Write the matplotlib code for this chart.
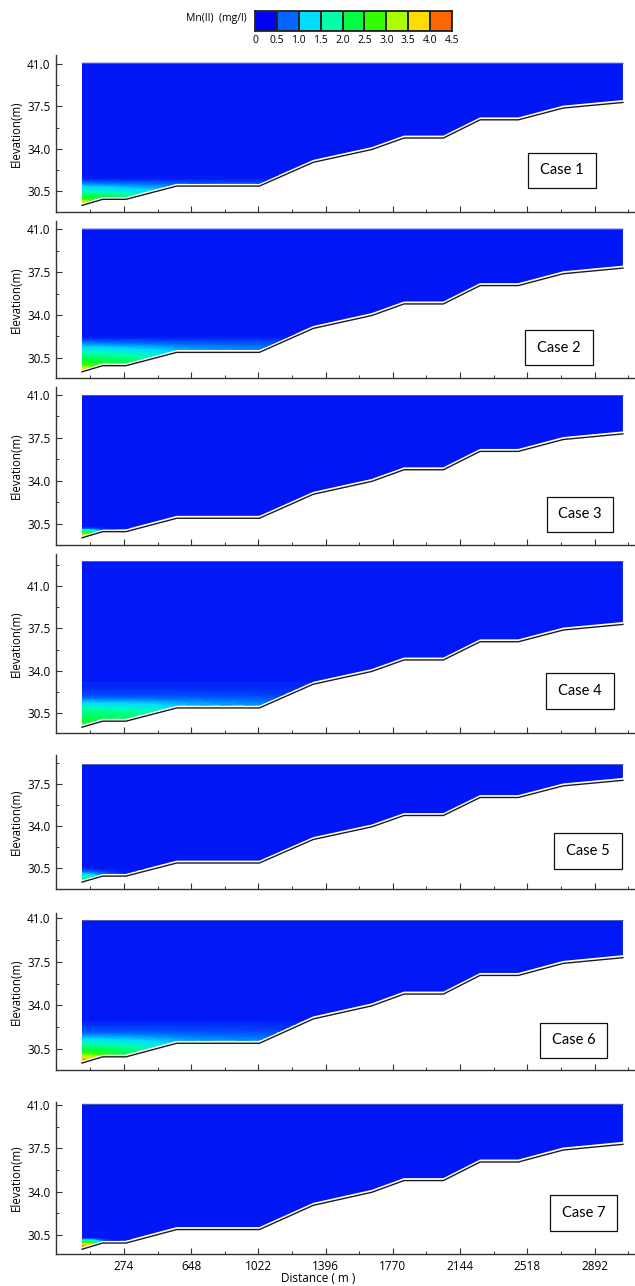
import numpy as np
import matplotlib
matplotlib.use("Agg")
import matplotlib.pyplot as plt
from matplotlib.colors import LinearSegmentedColormap, ListedColormap, BoundaryNorm, Normalize
from matplotlib.patches import Polygon, Rectangle
from matplotlib.ticker import FixedLocator

# ---------------- data ----------------
PROFILE_X = [40, 155, 285, 567, 1027, 1327, 1652, 1832, 2051, 2255, 2468, 2718, 3050]
PROFILE_Z = [29.35, 29.85, 29.85, 30.94, 30.94, 32.9, 33.95, 34.9, 34.9, 36.4, 36.4, 37.37, 37.83]

CASES = ["Case 1", "Case 2", "Case 3", "Case 4", "Case 5", "Case 6", "Case 7"]
SURFACE = [41.1, 41.05, 41.0, 43.05, 39.17, 40.85, 41.1]

GRID_X = [0, 100, 200, 320, 450, 600, 1000, 1300, 3200]

# concentration (mg/l): one row per GRID_X station, one value per elevation level
Z1 = [28.5, 29.5, 29.8, 30.1, 30.5, 30.9, 31.2, 31.5, 31.8, 44.0]
C1 = [[4.6, 4.2, 2.8, 2.3, 1.7, 1.2, 0.8, 0.35, 0.05, 0.0],
      [4.2, 3.8, 2.6, 2.2, 1.6, 1.15, 0.75, 0.3, 0.05, 0.0],
      [3.0, 3.0, 2.4, 2.1, 1.5, 1.1, 0.7, 0.3, 0.05, 0.0],
      [2.2, 2.2, 2.1, 1.9, 1.4, 1.0, 0.7, 0.3, 0.05, 0.0],
      [1.6, 1.6, 1.6, 1.5, 1.3, 0.95, 0.65, 0.3, 0.05, 0.0],
      [1.1, 1.1, 1.1, 1.1, 1.05, 0.9, 0.6, 0.25, 0.05, 0.0],
      [0.8, 0.8, 0.8, 0.8, 0.8, 0.75, 0.55, 0.25, 0.05, 0.0],
      [0.6, 0.6, 0.6, 0.6, 0.6, 0.6, 0.5, 0.2, 0.05, 0.0],
      [0.6, 0.6, 0.6, 0.6, 0.6, 0.6, 0.5, 0.2, 0.05, 0.0]]

Z2 = [28.5, 29.5, 29.8, 30.2, 30.6, 31.0, 31.4, 31.8, 32.1, 32.4, 44.0]
C2 = [[4.6, 4.3, 3.0, 2.4, 2.1, 1.6, 1.2, 0.7, 0.3, 0.05, 0.0],
      [4.0, 3.8, 2.8, 2.3, 2.0, 1.55, 1.15, 0.7, 0.3, 0.05, 0.0],
      [3.0, 3.0, 2.6, 2.2, 1.9, 1.5, 1.1, 0.65, 0.3, 0.05, 0.0],
      [2.3, 2.3, 2.3, 2.1, 1.8, 1.4, 1.05, 0.65, 0.3, 0.05, 0.0],
      [1.7, 1.7, 1.7, 1.7, 1.6, 1.3, 1.0, 0.6, 0.3, 0.05, 0.0],
      [1.3, 1.3, 1.3, 1.3, 1.3, 1.15, 0.9, 0.6, 0.3, 0.05, 0.0],
      [1.0, 1.0, 1.0, 1.0, 1.0, 0.95, 0.8, 0.55, 0.3, 0.05, 0.0],
      [0.8, 0.8, 0.8, 0.8, 0.8, 0.8, 0.7, 0.5, 0.25, 0.05, 0.0],
      [0.8, 0.8, 0.8, 0.8, 0.8, 0.8, 0.7, 0.5, 0.25, 0.05, 0.0]]

Z3 = [28.5, 29.4, 29.65, 29.9, 30.1, 30.3, 44.0]
C3 = [[4.6, 4.3, 3.2, 1.9, 0.6, 0.0, 0.0],
      [4.0, 3.8, 2.8, 1.7, 0.5, 0.0, 0.0],
      [0.8, 0.8, 0.8, 0.6, 0.2, 0.0, 0.0],
      [0.0, 0.0, 0.0, 0.0, 0.0, 0.0, 0.0],
      [0.0, 0.0, 0.0, 0.0, 0.0, 0.0, 0.0],
      [0.0, 0.0, 0.0, 0.0, 0.0, 0.0, 0.0],
      [0.0, 0.0, 0.0, 0.0, 0.0, 0.0, 0.0],
      [0.0, 0.0, 0.0, 0.0, 0.0, 0.0, 0.0],
      [0.0, 0.0, 0.0, 0.0, 0.0, 0.0, 0.0]]

Z4 = [28.5, 29.7, 30.1, 30.5, 30.9, 31.3, 31.7, 32.0, 32.3, 32.6, 33.0, 33.15, 44.0]
C4 = [[2.5, 2.4, 2.2, 2.0, 1.7, 1.25, 0.8, 0.55, 0.45, 0.35, 0.3, 0.1, 0.05],
      [2.4, 2.35, 2.2, 2.0, 1.7, 1.25, 0.8, 0.55, 0.45, 0.35, 0.3, 0.1, 0.05],
      [2.3, 2.3, 2.15, 1.95, 1.65, 1.2, 0.8, 0.55, 0.45, 0.35, 0.3, 0.1, 0.05],
      [2.1, 2.1, 2.05, 1.9, 1.6, 1.2, 0.8, 0.55, 0.45, 0.35, 0.3, 0.1, 0.05],
      [1.7, 1.7, 1.7, 1.65, 1.5, 1.15, 0.78, 0.55, 0.45, 0.35, 0.3, 0.1, 0.05],
      [1.3, 1.3, 1.3, 1.3, 1.25, 1.05, 0.75, 0.55, 0.45, 0.35, 0.3, 0.1, 0.05],
      [1.0, 1.0, 1.0, 1.0, 1.0, 0.9, 0.7, 0.5, 0.42, 0.35, 0.3, 0.1, 0.05],
      [0.8, 0.8, 0.8, 0.8, 0.8, 0.8, 0.6, 0.45, 0.4, 0.33, 0.3, 0.1, 0.05],
      [0.8, 0.8, 0.8, 0.8, 0.8, 0.8, 0.6, 0.45, 0.4, 0.33, 0.3, 0.1, 0.05]]

Z5 = [28.5, 29.5, 29.8, 30.1, 30.35, 30.6, 44.0]
C5 = [[2.4, 2.2, 1.8, 1.1, 0.5, 0.05, 0.02],
      [2.0, 1.9, 1.5, 0.9, 0.45, 0.05, 0.02],
      [0.8, 0.8, 0.7, 0.5, 0.3, 0.05, 0.02],
      [0.2, 0.2, 0.2, 0.15, 0.1, 0.02, 0.02],
      [0.0, 0.0, 0.0, 0.0, 0.0, 0.0, 0.0],
      [0.0, 0.0, 0.0, 0.0, 0.0, 0.0, 0.0],
      [0.0, 0.0, 0.0, 0.0, 0.0, 0.0, 0.0],
      [0.0, 0.0, 0.0, 0.0, 0.0, 0.0, 0.0],
      [0.0, 0.0, 0.0, 0.0, 0.0, 0.0, 0.0]]

Z6 = [28.5, 29.6, 29.9, 30.2, 30.5, 30.9, 31.3, 31.7, 32.0, 32.4, 32.7, 32.8, 44.0]
C6 = [[4.6, 4.3, 3.5, 2.6, 2.2, 1.7, 1.2, 0.8, 0.55, 0.4, 0.3, 0.1, 0.05],
      [4.0, 3.8, 3.2, 2.5, 2.15, 1.65, 1.2, 0.8, 0.55, 0.4, 0.3, 0.1, 0.05],
      [2.8, 2.8, 2.7, 2.35, 2.05, 1.6, 1.15, 0.8, 0.55, 0.4, 0.3, 0.1, 0.05],
      [2.1, 2.1, 2.1, 2.05, 1.9, 1.5, 1.1, 0.78, 0.55, 0.4, 0.3, 0.1, 0.05],
      [1.6, 1.6, 1.6, 1.6, 1.55, 1.35, 1.05, 0.75, 0.55, 0.4, 0.3, 0.1, 0.05],
      [1.25, 1.25, 1.25, 1.25, 1.25, 1.15, 0.95, 0.72, 0.52, 0.4, 0.3, 0.1, 0.05],
      [1.0, 1.0, 1.0, 1.0, 1.0, 0.95, 0.85, 0.65, 0.5, 0.38, 0.3, 0.1, 0.05],
      [0.8, 0.8, 0.8, 0.8, 0.8, 0.8, 0.8, 0.6, 0.45, 0.35, 0.3, 0.1, 0.05],
      [0.8, 0.8, 0.8, 0.8, 0.8, 0.8, 0.8, 0.6, 0.45, 0.35, 0.3, 0.1, 0.05]]

Z7 = [28.5, 29.5, 29.75, 29.95, 30.15, 30.3, 44.0]
C7 = [[4.6, 4.4, 3.9, 2.2, 0.9, 0.0, 0.0],
      [4.0, 4.0, 3.4, 2.0, 0.8, 0.0, 0.0],
      [0.6, 0.6, 0.6, 0.5, 0.2, 0.0, 0.0],
      [0.0, 0.0, 0.0, 0.0, 0.0, 0.0, 0.0],
      [0.0, 0.0, 0.0, 0.0, 0.0, 0.0, 0.0],
      [0.0, 0.0, 0.0, 0.0, 0.0, 0.0, 0.0],
      [0.0, 0.0, 0.0, 0.0, 0.0, 0.0, 0.0],
      [0.0, 0.0, 0.0, 0.0, 0.0, 0.0, 0.0],
      [0.0, 0.0, 0.0, 0.0, 0.0, 0.0, 0.0]]

FIELDS = [(Z1, C1), (Z2, C2), (Z3, C3), (Z4, C4), (Z5, C5), (Z6, C6), (Z7, C7)]

CBAR_BOUNDS = [0, 0.5, 1.0, 1.5, 2.0, 2.5, 3.0, 3.5, 4.0, 4.5]
CBAR_LABELS = ["0", "0.5", "1.0", "1.5", "2.0", "2.5", "3.0", "3.5", "4.0", "4.5"]
CBAR_COLORS = ["#0000F8", "#0066FF", "#00DDFF", "#00FFAA", "#00FF44",
               "#33FF00", "#AAFF00", "#FFDD00", "#FF6600"]

XTICKS = [274, 648, 1022, 1396, 1770, 2144, 2518, 2892]
YTICKS = [30.5, 34.0, 37.5, 41.0]

# ---------------- layout (pixels) ----------------
W, H = 635, 1286
PANELS = [  # top px, bottom px, ymin, ymax
    (55.0, 211.7, 28.83, 41.74),
    (221.0, 378.3, 28.82, 41.68),
    (387.3, 545.0, 28.76, 41.63),
    (554.0, 733.3, 28.85, 43.64),
    (755.0, 889.3, 28.75, 39.94),
    (913.3, 1070.0, 28.79, 41.40),
    (1102.0, 1254.3, 28.94, 41.25),
]
BOXES = [(528, 153, 596, 188), (525, 330, 593, 365), (547, 497, 613, 532),
         (546, 673, 614, 709), (554, 833, 622, 869), (540, 1023, 607, 1058),
         (550, 1195, 617, 1231)]
LEFT_PX, RIGHT_PX = 56.0, 640.0
XMIN, XMAX = -104.6, 3145.0

field_cmap = LinearSegmentedColormap.from_list(
    "mn", [(0.0, "#0016F5"), (0.25 / 4.6, "#001CF6"), (0.75 / 4.6, "#0066FF"),
           (1.25 / 4.6, "#00DDFF"), (1.75 / 4.6, "#00FFAA"), (2.25 / 4.6, "#00FF44"),
           (2.75 / 4.6, "#33FF00"), (3.25 / 4.6, "#AAFF00"), (3.75 / 4.6, "#FFDD00"),
           (4.25 / 4.6, "#FF6600"), (1.0, "#FF1500")])
field_norm = Normalize(0, 4.6)

fig = plt.figure(figsize=(W / 100, H / 100), dpi=100)
TICKFONT = ["Open Sans", "DejaVu Sans"]

GAP = 0.2
px = np.array(PROFILE_X, dtype=float)
pz = np.array(PROFILE_Z, dtype=float)
levels = np.linspace(0, 4.6, 93)

for i, (top, bot, y0, y1) in enumerate(PANELS):
    ax = fig.add_axes([LEFT_PX / W, 1 - bot / H, (RIGHT_PX - LEFT_PX) / W, (bot - top) / H])
    ax.set_xlim(XMIN, XMAX)
    ax.set_ylim(y0, y1)
    zlev, conc = FIELDS[i]
    XX, ZZ = np.meshgrid(np.array(GRID_X, float), np.array(zlev, float))
    CC = np.array(conc, float).T
    cs = ax.contourf(XX, ZZ, CC, levels=levels, cmap=field_cmap, norm=field_norm, extend="both")
    surf = SURFACE[i]
    verts = [(px[0], surf), (px[-1], surf)] + [(x, z + GAP) for x, z in zip(px[::-1], pz[::-1])]
    poly = Polygon(verts, closed=True, facecolor="none", edgecolor="none", transform=ax.transData)
    ax.add_patch(poly)
    cs.set_clip_path(poly)
    ax.plot([px[0], px[-1]], [surf, surf], color="#6070b0", lw=0.5)
    ax.plot(px, pz, color="#1a1a1a", lw=1.0, solid_joinstyle="miter")

    for s in ["top", "right"]:
        ax.spines[s].set_visible(False)
    for s in ["left", "bottom"]:
        ax.spines[s].set_color("#333333")
        ax.spines[s].set_linewidth(1.0)
    yt = [t for t in YTICKS if y0 <= t <= y1]
    ax.yaxis.set_major_locator(FixedLocator(yt))
    ax.yaxis.set_minor_locator(FixedLocator(np.arange(28.75, 44.0, 1.75)))
    ax.set_yticklabels([f"{t:.1f}" for t in yt], fontsize=8.5, family=TICKFONT)
    ax.xaxis.set_major_locator(FixedLocator(XTICKS))
    ax.xaxis.set_minor_locator(FixedLocator(np.arange(87, 3200, 374)))
    ax.tick_params(axis="both", which="major", direction="in", length=4, width=0.8,
                   color="#333333", pad=4)
    ax.tick_params(axis="both", which="minor", direction="in", length=2.5, width=0.7,
                   color="#333333")
    ax.set_ylabel("Elevation(m)", fontsize=8.3, family=TICKFONT, labelpad=3)
    if i == len(PANELS) - 1:
        ax.set_xticklabels([str(t) for t in XTICKS], fontsize=8.5, family=TICKFONT)
        ax.set_xlabel("Distance ( m )", fontsize=8.5, family=TICKFONT, labelpad=0)
        ax.xaxis.set_label_coords((318 - LEFT_PX) / (RIGHT_PX - LEFT_PX), -0.115)
    else:
        ax.set_xticklabels([])
    ax.patch.set_alpha(0)

    bx0, by0, bx1, by1 = BOXES[i]
    fig.patches.append(Rectangle((bx0 / W, 1 - by1 / H), (bx1 - bx0) / W, (by1 - by0) / H,
                                 transform=fig.transFigure, facecolor="white",
                                 edgecolor="#111111", lw=0.9, zorder=5))
    fig.text((bx0 + bx1) / 2 / W, 1 - (by0 + by1) / 2 / H, CASES[i], ha="center", va="center",
             fontsize=10.5, family=["Lato", "DejaVu Sans"], zorder=6)

# ---------------- colour bar ----------------
cax = fig.add_axes([255 / W, 1 - 30.7 / H, (452 - 255) / W, 20 / H])
cmap_bins = ListedColormap(CBAR_COLORS)
bnorm = BoundaryNorm(CBAR_BOUNDS, cmap_bins.N)
mids = np.array([(a + b) / 2 for a, b in zip(CBAR_BOUNDS[:-1], CBAR_BOUNDS[1:])])
cax.pcolormesh(np.array(CBAR_BOUNDS), [0, 1], mids[np.newaxis, :], cmap=cmap_bins, norm=bnorm,
               edgecolors="#222222", linewidth=1.3)
cax.set_xlim(0, 4.5)
cax.set_ylim(0, 1)
for s in cax.spines.values():
    s.set_color("#222222")
    s.set_linewidth(1.3)
cax.set_yticks([])
cax.set_xticks(CBAR_BOUNDS)
cax.set_xticklabels(CBAR_LABELS, fontsize=7.5, family=TICKFONT)
cax.tick_params(axis="x", length=0, pad=3)
fig.text(247 / W, 1 - 19 / H, "Mn(II)  (mg/l)", ha="right", va="center", fontsize=7.5,
         family=TICKFONT)

fig.savefig("out.png", dpi=100)
